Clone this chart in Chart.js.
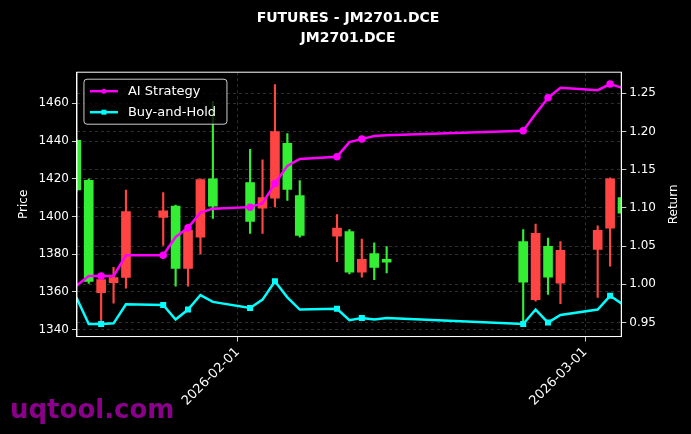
<!DOCTYPE html>
<html>
<head>
<meta charset="utf-8">
<script src="https://cdn.jsdelivr.net/npm/chart.js@4"></script>
<style>
  html, body { margin: 0; padding: 0; background: #000; }
</style>
</head>
<body>
<canvas id="chart" width="691" height="434"></canvas>
<script>
// trading days, counted from 2026-02-01 (day 0)
const days = [-13, -12, -11, -10, -9, -6, -5, -4, -3, -2, 1, 2, 3, 4, 5, 8, 9, 10, 11, 12, 23, 24, 25, 26, 29, 30, 31];
const opens  = [1414, 1365.5, 1366.5, 1367.6, 1402.6, 1403, 1372.4, 1392.6, 1419.6, 1405.5, 1397.3, 1410, 1445, 1414.3, 1390, 1393.8, 1370.4, 1377.2, 1373, 1375.7, 1365.1, 1391, 1367.8, 1382, 1392.6, 1420, 1401.8];
const closes = [1440.4, 1419.1, 1359.6, 1364.9, 1367.6, 1399.5, 1405.5, 1372.4, 1389, 1420, 1418, 1404.4, 1409.7, 1438.8, 1411, 1389.5, 1392, 1370.4, 1380.3, 1377.2, 1386.7, 1355.9, 1384.2, 1364.6, 1382.5, 1393.8, 1410];
const highs  = [1441, 1420, 1367, 1373, 1414, 1412.7, 1406, 1393, 1420, 1461, 1435.6, 1430, 1470, 1444, 1419, 1401, 1393, 1388, 1386, 1384, 1393, 1396, 1388.5, 1386.7, 1395, 1420.5, 1410.5];
const lows   = [1413, 1364.5, 1343, 1354, 1362, 1384.6, 1363, 1363, 1380, 1399, 1391, 1391, 1405, 1408.5, 1389, 1376, 1369.5, 1367.8, 1366.5, 1370, 1343, 1355, 1358.6, 1353.8, 1357, 1373.6, 1401];
const aiStrategy  = [0.998, 1.011, 1.011, 1.011, 1.038, 1.038, 1.062, 1.074, 1.094, 1.099, 1.101, 1.106, 1.132, 1.155, 1.164, 1.167, 1.186, 1.190, 1.194, 1.195, 1.201, 1.223, 1.244, 1.257, 1.254, 1.262, 1.257];
const buyAndHold  = [0.983, 0.948, 0.948, 0.949, 0.974, 0.973, 0.954, 0.967, 0.986, 0.977, 0.969, 0.980, 1.004, 0.983, 0.967, 0.968, 0.953, 0.956, 0.954, 0.956, 0.948, 0.967, 0.950, 0.960, 0.967, 0.985, 0.974];
const markerIdx = [2, 5, 7, 10, 12, 15, 17, 20, 22, 25];
const dateTicks = [0, 28];
const dateLabels = ['2026-02-01', '2026-03-01'];
const priceTicks = [1340, 1360, 1380, 1400, 1420, 1440, 1460];
const returnTicks = [0.95, 1.0, 1.05, 1.1, 1.15, 1.2, 1.25];
const titleLines = ['FUTURES - JM2701.DCE', 'JM2701.DCE'];

const GREEN = '#33ee33';
const RED = '#ff4444';
const colors = days.map((d, i) => closes[i] >= opens[i] ? GREEN : RED);
const radii = days.map((d, i) => markerIdx.includes(i) ? 2.5 : 0);

const frame = {
    id: 'frame',
    afterDraw(chart) {
        const { ctx, chartArea: a } = chart;
        ctx.save();
        ctx.strokeStyle = '#fff';
        ctx.lineWidth = 1;
        ctx.strokeRect(a.left, a.top, a.right - a.left, a.bottom - a.top);
        // title, centred over the plot
        ctx.fillStyle = '#fff';
        ctx.textAlign = 'center';
        ctx.textBaseline = 'middle';
        ctx.font = 'bold 14px "DejaVu Sans"';
        titleLines.forEach((t, k) => ctx.fillText(t, 348, 18 + k * 20));
        // right axis title, reading upwards
        ctx.font = '12px "DejaVu Sans"';
        ctx.translate(674, (a.top + a.bottom) / 2);
        ctx.rotate(-Math.PI / 2);
        ctx.fillText('Return', 0, 0);
        ctx.setTransform(1, 0, 0, 1, 0, 0);
        ctx.textAlign = 'left';
        // legend
        const lx = a.left + 7, ly = a.top + 7;
        ctx.fillStyle = 'rgba(0,0,0,0.8)';
        ctx.strokeStyle = '#ccc';
        ctx.beginPath();
        ctx.roundRect(lx, ly, 143, 45, 3);
        ctx.fill();
        ctx.stroke();
        const items = [['AI Strategy', '#ff00ff', 'circle'], ['Buy-and-Hold', '#00ffff', 'rect']];
        ctx.font = '13px "DejaVu Sans"';
        items.forEach((it, k) => {
            const y = ly + 12 + k * 21;
            ctx.strokeStyle = it[1];
            ctx.fillStyle = it[1];
            ctx.lineWidth = 2.5;
            ctx.beginPath();
            ctx.moveTo(lx + 6, y);
            ctx.lineTo(lx + 34, y);
            ctx.stroke();
            if (it[2] === 'circle') {
                ctx.beginPath(); ctx.arc(lx + 20, y, 2.5, 0, Math.PI * 2); ctx.fill();
            } else {
                ctx.fillRect(lx + 17.5, y - 2.5, 5, 5);
            }
            ctx.fillStyle = '#fff';
            ctx.fillText(it[0], lx + 44, y);
        });
        // watermark
        ctx.fillStyle = '#8b008b';
        ctx.font = 'bold 26px "DejaVu Sans"';
        ctx.textBaseline = 'alphabetic';
        ctx.fillText('uqtool.com', 10, 418);
        ctx.restore();
    }
};

const gridStyle = { color: 'rgba(128,128,128,0.45)', lineWidth: 0.8, tickColor: '#fff', tickLength: 5 };
const borderStyle = { display: true, color: '#fff', dash: [3, 3] };
const tickFont = { family: 'DejaVu Sans', size: 12 };

new Chart(document.getElementById('chart'), {
    data: {
        datasets: [
            {
                type: 'line', label: 'AI Strategy', yAxisID: 'yR',
                data: days.map((d, i) => ({ x: d, y: aiStrategy[i] })),
                borderColor: '#ff00ff', backgroundColor: '#ff00ff', borderWidth: 2.5,
                pointRadius: radii, pointStyle: 'circle', tension: 0, order: 0
            },
            {
                type: 'line', label: 'Buy-and-Hold', yAxisID: 'yR',
                data: days.map((d, i) => ({ x: d, y: buyAndHold[i] })),
                borderColor: '#00ffff', backgroundColor: '#00ffff', borderWidth: 2.5,
                pointRadius: radii, pointStyle: 'rect', tension: 0, order: 0
            },
            {
                type: 'bar', label: 'body', yAxisID: 'y',
                data: days.map((d, i) => ({ x: d, y: [opens[i], closes[i]] })),
                backgroundColor: colors, barThickness: 9, grouped: false, order: 2
            },
            {
                type: 'bar', label: 'wick', yAxisID: 'y',
                data: days.map((d, i) => ({ x: d, y: [lows[i], highs[i]] })),
                backgroundColor: colors, barThickness: 1.5, grouped: false, order: 3
            }
        ]
    },
    options: {
        responsive: false,
        animation: false,
        layout: { padding: { top: 0, right: 32, left: 13, bottom: 22 } },
        plugins: {
            legend: { display: false },
            tooltip: { enabled: false },
            title: {
                display: true,
                text: titleLines,
                color: 'rgba(0,0,0,0)',
                font: { family: 'DejaVu Sans', size: 14, weight: 'bold', lineHeight: 1.4 },
                padding: { top: 8, bottom: 25 }
            }
        },
        scales: {
            x: {
                type: 'linear', min: -12.95, max: 30.9, offset: false, bounds: 'data',
                afterDataLimits: s => { s.min = -12.95; s.max = 30.9; },
                afterBuildTicks: s => { s.ticks = dateTicks.map(v => ({ value: v })); },
                ticks: {
                    color: '#fff', font: { family: 'DejaVu Sans', size: 13 },
                    minRotation: 45, maxRotation: 45, autoSkip: false,
                    callback: v => dateLabels[dateTicks.indexOf(v)]
                },
                grid: { ...gridStyle, offset: false },
                border: borderStyle
            },
            y: {
                position: 'left', min: 1336.3, max: 1476.5,
                afterBuildTicks: s => { s.ticks = priceTicks.map(v => ({ value: v })); },
                ticks: { color: '#fff', font: tickFont, callback: v => String(v) },
                title: { display: true, text: 'Price', color: '#fff', font: tickFont },
                grid: gridStyle,
                border: borderStyle
            },
            yR: {
                position: 'right', min: 0.9317, max: 1.2775,
                afterBuildTicks: s => { s.ticks = returnTicks.map(v => ({ value: v })); },
                ticks: { color: '#fff', font: tickFont, callback: v => v.toFixed(2) },
                grid: gridStyle,
                border: borderStyle
            }
        }
    },
    plugins: [frame]
});
</script>
</body>
</html>
